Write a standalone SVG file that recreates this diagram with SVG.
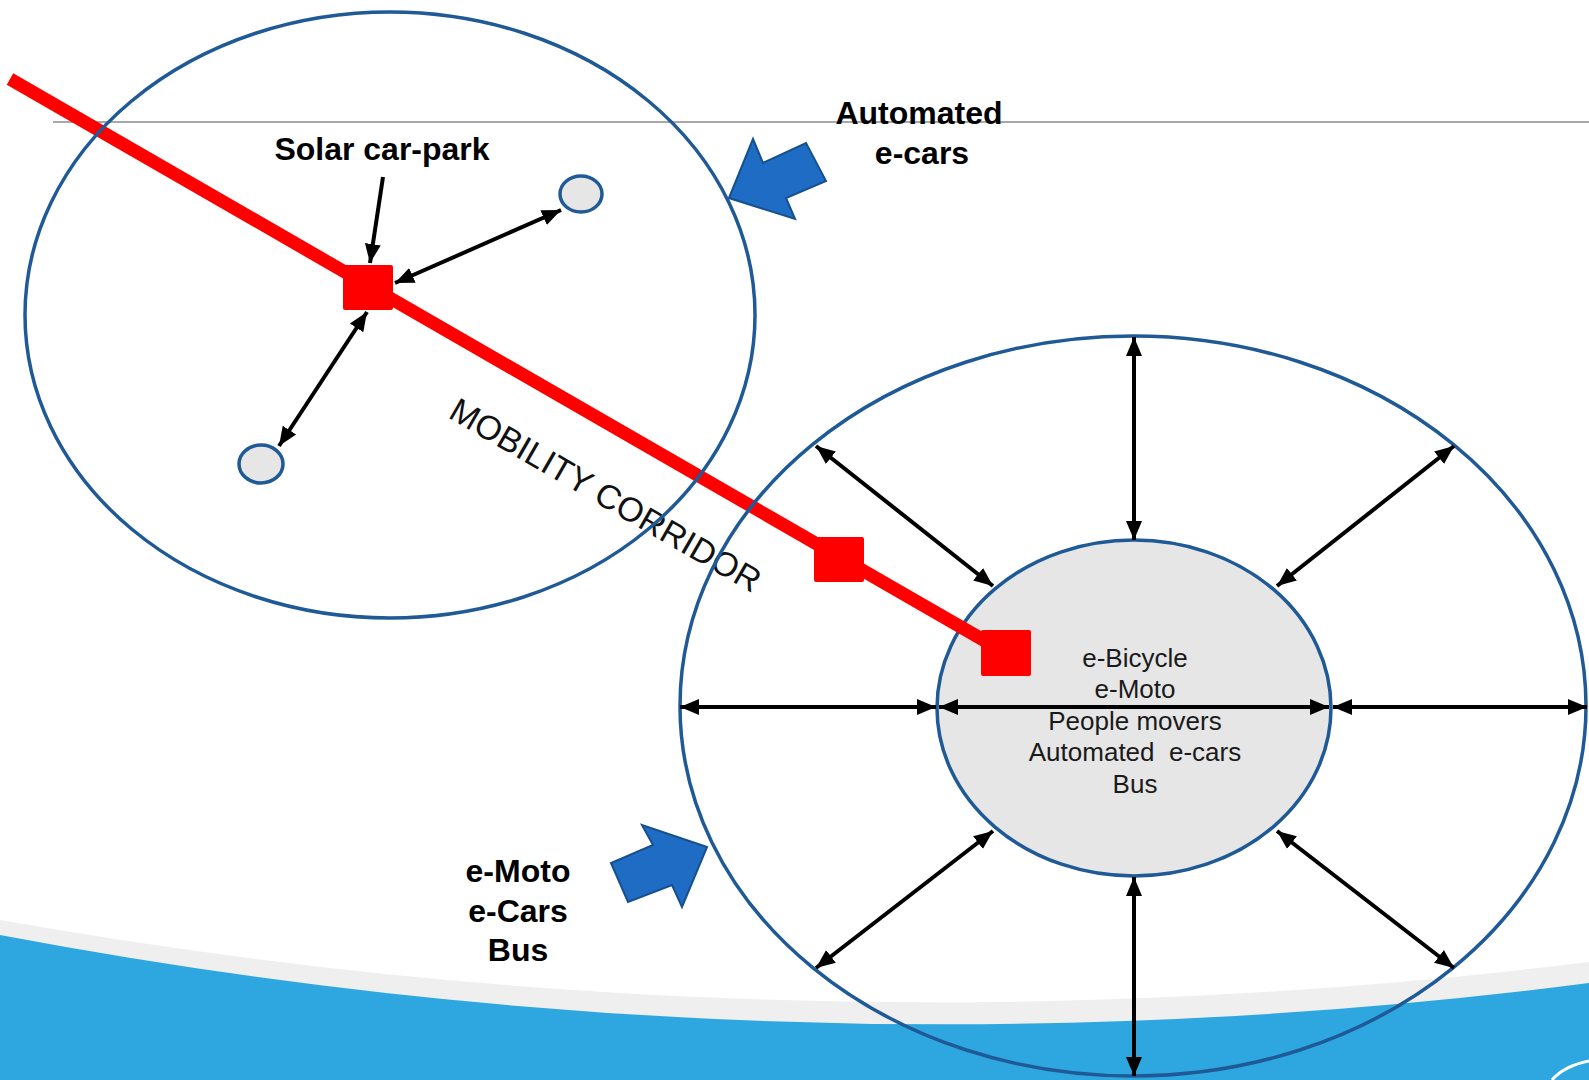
<svg xmlns="http://www.w3.org/2000/svg" width="1589" height="1080" viewBox="0 0 1589 1080">
  <style>
    .ring { fill: none; stroke: #1F5A96; stroke-width: 3.5; }
    .hub { fill: #E6E6E6; stroke: #1F5A96; stroke-width: 3.5; }
    .stop { fill: #FF0000; }
    .arr { stroke: #000; stroke-width: 4; fill: none; }
    .dbl { marker-start: url(#ah); marker-end: url(#ah); }
    .one { marker-end: url(#ah); }
    .blk { fill: #1E6CC4; stroke: #16508F; stroke-width: 2; stroke-linejoin: miter; }
    .lbl { font-family: "Liberation Sans", Arial, sans-serif; font-weight: bold; font-size: 32px; fill: #000; text-anchor: middle; }
    .inner { font-family: "Liberation Sans", Arial, sans-serif; font-size: 26px; fill: #1a1a1a; text-anchor: middle; }
    .corr { font-family: "Liberation Sans", Arial, sans-serif; font-size: 34px; fill: #111; }
  </style>
  <defs>
    <marker id="ah" markerUnits="userSpaceOnUse" markerWidth="20" markerHeight="18" refX="19" refY="9" orient="auto-start-reverse" viewBox="0 0 20 18">
      <path d="M0,1 L19,9 L0,17 Z" fill="#000"/>
    </marker>
  </defs>

  <rect width="1589" height="1080" fill="#fff"/>

  <!-- background decoration -->
  <g id="background">
    <line x1="53" y1="122" x2="1589" y2="122" stroke="#A8A8A8" stroke-width="2"/>
    <path d="M0,920 Q794,1060 1589,962 L1589,1080 L0,1080 Z" fill="#EFEFEF"/>
    <path d="M0,935 Q794,1085 1589,983 L1589,1080 L0,1080 Z" fill="#2EA7E0"/>
    <path d="M1552,1080 Q1564,1066 1589,1061" fill="none" stroke="#fff" stroke-width="3"/>
  </g>

  <!-- inner hub -->
  <g id="hub">
    <ellipse class="hub" cx="1134" cy="708" rx="197" ry="168"/>
  </g>

  <!-- mobility corridor -->
  <g id="corridor">
    <line x1="10" y1="79" x2="1006" y2="653" stroke="#FF0000" stroke-width="13"/>
    <text class="corr" transform="translate(447,417) rotate(30)">MOBILITY CORRIDOR</text>
  </g>

  <g id="solar-carpark">
    <rect class="stop" x="343" y="265" width="50" height="45" rx="2"/>
  </g>
  <g id="stop-2">
    <rect class="stop" x="814" y="537" width="50" height="45" rx="2"/>
  </g>
  <g id="stop-3">
    <rect class="stop" x="981" y="630" width="50" height="46" rx="2"/>
  </g>

  <!-- zones -->
  <g id="zone-1">
    <ellipse class="ring" cx="390" cy="315" rx="365" ry="303"/>
  </g>
  <g id="zone-2">
    <ellipse class="ring" cx="1133" cy="706" rx="453" ry="370"/>
  </g>

  <g id="point-1">
    <ellipse class="hub" cx="581" cy="194" rx="21" ry="18"/>
  </g>
  <g id="point-2">
    <ellipse class="hub" cx="261" cy="464" rx="22" ry="19"/>
  </g>

  <!-- connectors -->
  <g id="connectors">
    <line class="arr one" x1="383" y1="177" x2="370" y2="263"/>
    <line class="arr dbl" x1="395" y1="283" x2="561" y2="210"/>
    <line class="arr dbl" x1="367" y1="312" x2="279" y2="446"/>

    <line class="arr dbl" x1="1134" y1="337" x2="1134" y2="540"/>
    <line class="arr dbl" x1="1134" y1="877" x2="1134" y2="1076"/>
    <line class="arr dbl" x1="680" y1="707" x2="936" y2="707"/>
    <line class="arr dbl" x1="939" y1="707" x2="1329" y2="707"/>
    <line class="arr dbl" x1="1333" y1="707" x2="1587" y2="707"/>
    <line class="arr dbl" x1="816" y1="446" x2="993" y2="586"/>
    <line class="arr dbl" x1="1454" y1="446" x2="1277" y2="586"/>
    <line class="arr dbl" x1="816" y1="968" x2="993" y2="831"/>
    <line class="arr dbl" x1="1454" y1="968" x2="1277" y2="831"/>
  </g>

  <!-- block arrows -->
  <g id="arrow-automated">
    <polygon class="blk" points="729,198 753,139 763,163 806,143 826,181 786,198 795,219"/>
  </g>
  <g id="arrow-emoto">
    <polygon class="blk" points="707,847 642,825 653,845 611,863 628,902 672,885 682,907"/>
  </g>

  <!-- labels -->
  <g id="label-solar">
    <text class="lbl" x="382" y="160">Solar car-park</text>
  </g>
  <g id="label-automated">
    <text class="lbl" x="919" y="124">Automated</text>
    <text class="lbl" x="922" y="164">e-cars</text>
  </g>
  <g id="label-emoto">
    <text class="lbl" x="518" y="882">e-Moto</text>
    <text class="lbl" x="518" y="922">e-Cars</text>
    <text class="lbl" x="518" y="961">Bus</text>
  </g>
  <g id="label-hub">
    <text class="inner" x="1135" y="667">e-Bicycle</text>
    <text class="inner" x="1135" y="698">e-Moto</text>
    <text class="inner" x="1135" y="730">People movers</text>
    <text class="inner" x="1135" y="761" xml:space="preserve">Automated  e-cars</text>
    <text class="inner" x="1135" y="793">Bus</text>
  </g>
</svg>
